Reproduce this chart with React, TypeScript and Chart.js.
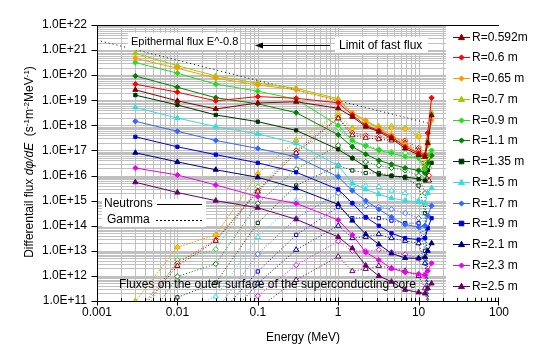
import React, { useEffect, useRef } from 'react';
import { Chart, registerables } from 'chart.js';

Chart.register(...registerables);

const FONT = '"Liberation Sans", Arial, sans-serif';

// Energies (MeV)
const neutronEnergies = [0.003, 0.01, 0.03, 0.1, 0.3, 1, 1.5, 2.2, 3.2, 4.6, 6.8, 10, 12, 13, 14.5];
const gammaEnergies = [0.003, 0.01, 0.03, 0.1, 0.3, 1, 1.5, 2.2, 3.2, 4.6, 6.8, 10, 12, 13.5];

const radiusLabels = ['R=0.592m', 'R=0.6 m', 'R=0.65 m', 'R=0.7 m', 'R=0.9 m', 'R=1.1 m', 'R=1.35 m', 'R=1.5 m', 'R=1.7 m', 'R=1.9 m', 'R=2.1 m', 'R=2.3 m', 'R=2.5 m'];

// Neutron differential flux
const nR0592 = [2.6e19, 9.5e18, 4.5e18, 7.8e18, 8.7e18, 4.8e18, 2.2e18, 8.9e17, 5.6e17, 3.0e17, 1.2e17, 6.6e16, 5.6e16, 2.0e17, 2.5e18];
const nR06 = [4.4e19, 2.1e19, 9.5e18, 1.4e19, 1.2e19, 7.9e18, 2.6e18, 1.0e18, 6.2e17, 3.5e17, 1.4e17, 7.8e16, 6.6e16, 5.0e17, 1.26e19];
const nR065 = [4.7e20, 1.9e20, 7.6e19, 4.1e19, 2.6e19, 1.0e19, 3.2e18, 1.6e18, 7.9e17, 4.2e17, 1.8e17, 7.9e16, 7.1e16, 1.6e17, 1.6e18];
const nR07 = [7.4e20, 2.4e20, 9.3e19, 4.8e19, 3.0e19, 1.15e19, 3.0e18, 1.4e18, 7.6e17, 3.5e17, 1.55e17, 7.2e16, 6.3e16, 2.6e17, 3.2e18];
const nR09 = [3.2e20, 1.2e20, 4.4e19, 2.3e19, 1.1e19, 1.0e18, 2.5e17, 1.5e17, 1.0e17, 7.8e16, 5.6e16, 5.0e16, 1.8e16, 6.3e16, 1.0e17];
const nR11 = [9.3e19, 3.3e19, 1.26e19, 7.2e18, 3.2e18, 4.2e17, 1.4e17, 7.1e16, 4.0e16, 2.8e16, 2.0e16, 1.6e16, 1.26e16, 3.2e16, 6.3e16];
const nR135 = [1.6e19, 6.5e18, 2.6e18, 1.4e18, 6.3e17, 1.1e17, 4.9e16, 2.2e16, 1.1e16, 9.5e15, 8.9e15, 7.2e15, 6.3e15, 1.6e16, 3.2e16];
const nR15 = [5.2e18, 1.95e18, 8.9e17, 4.6e17, 1.9e17, 2.5e16, 5.0e15, 2.8e15, 1.8e15, 1.26e15, 1.0e15, 8.9e14, 7.9e14, 2.0e15, 3.2e15];
const nR17 = [1.45e18, 5.8e17, 2.5e17, 1.2e17, 5.6e16, 8.9e15, 2.5e15, 1.0e15, 4.5e14, 2.2e14, 1.1e14, 8.9e13, 1.0e14, 2.5e14, 6.3e14];
const nR19 = [3.5e17, 1.4e17, 6.8e16, 3.2e16, 1.35e16, 2.8e15, 7.9e14, 2.2e14, 1.0e14, 5.0e13, 3.2e13, 2.8e13, 3.2e13, 7.9e13, 2.0e14];
const nR21 = [8.1e16, 3.5e16, 1.7e16, 8.5e15, 3.1e15, 7.1e14, 1.6e14, 4.6e13, 1.8e13, 7.9e12, 5.2e12, 5.0e12, 5.6e12, 1.0e13, 2.0e13];
const nR23 = [2.0e16, 1.05e16, 4.2e15, 1.45e15, 7.8e14, 1.7e14, 4.3e13, 8.7e12, 4.3e12, 2.0e12, 1.4e12, 1.2e12, 1.1e12, 1.6e12, 3.2e12];
const nR25 = [5.4e15, 2.1e15, 1.0e15, 5.2e14, 1.8e14, 3.6e13, 1.26e13, 2.6e12, 1.0e12, 5.9e11, 2.8e11, 2.2e11, 2.0e11, 3.2e11, 5.0e11];

// Gamma differential flux
const gR0592 = [2.5e10, 2.5e12, 2.5e13, 2.3e15, 7.9e16, 1.9e18, 4.0e17, 3.2e17, 2.8e17, 2.5e17, 2.0e17, 1.0e17, 1.6e16, 6.3e15];
const gR06 = [3.2e10, 3.2e12, 2.8e13, 2.5e15, 1.0e17, 2.0e18, 5.0e17, 4.0e17, 3.5e17, 3.2e17, 2.5e17, 1.26e17, 2.0e16, 1.0e16];
const gR065 = [9.3e10, 1.4e13, 4.3e13, 1.15e16, 2.4e17, 2.5e18, 7.1e17, 8.9e17, 8.3e17, 7.9e17, 7.1e17, 3.5e17, 2.5e16, 5.0e16];
const gR07 = [1.0e11, 1.4e13, 4.3e13, 1.2e16, 2.6e17, 3.0e18, 7.9e17, 1.0e18, 9.3e17, 9.3e17, 7.9e17, 4.2e17, 3.2e16, 6.3e16];
const gR09 = [1.0e10, 4.3e12, 1.15e13, 3.6e15, 1.0e17, 7.9e17, 2.0e17, 1.6e17, 1.1e17, 8.9e16, 7.9e16, 5.0e16, 1.0e16, 2.0e16];
const gR11 = [3.2e9, 9.5e11, 3.0e12, 7.8e14, 1.8e16, 1.6e17, 5.0e16, 3.5e16, 2.5e16, 2.0e16, 1.6e16, 1.0e16, 2.0e15, 3.2e10];
const gR135 = [1.0e9, 1.4e11, 5.4e11, 1.3e14, 4.0e15, 2.5e16, 1.6e16, 1.26e16, 1.26e16, 1.0e16, 7.9e15, 4.0e15, 3.2e14, 1.0e10];
const gR15 = [3.2e8, 3.2e10, 1.5e11, 3.5e13, 1.0e15, 1.0e16, 3.5e15, 4.0e15, 3.5e15, 2.5e15, 2.0e15, 1.0e15, 1.0e14, 1.0e10];
const gR17 = [1.0e8, 1.0e10, 4.0e10, 7.4e12, 2.0e14, 2.0e15, 7.9e14, 6.3e14, 5.6e14, 4.5e14, 3.2e14, 2.0e14, 3.2e13, 1.0e10];
const gR19 = [3.2e7, 3.2e9, 2.0e10, 1.5e12, 4.3e13, 5.6e14, 2.0e14, 2.1e14, 2.0e14, 1.6e14, 1.26e14, 1.26e14, 1.0e13, 1.0e10];
const gR21 = [1.0e7, 1.0e9, 6.3e9, 5.0e11, 1.1e13, 1.0e14, 3.2e13, 3.6e13, 4.6e13, 3.2e13, 2.5e13, 2.0e13, 3.2e12, 1.0e10];
const gR23 = [3.2e6, 3.2e8, 2.0e9, 1.6e11, 2.7e12, 2.4e13, 1.0e13, 9.8e12, 1.1e13, 8.9e12, 7.2e12, 5.0e12, 1.0e12, 1.0e10];
const gR25 = [1.0e6, 1.0e8, 6.3e8, 5.0e10, 6.9e11, 5.9e12, 1.55e12, 1.9e12, 2.5e12, 2.0e12, 1.6e12, 1.0e12, 3.2e11, 1.0e10];

// Epithermal flux E^-0.8 reference line (end points)
const epithermalEnergies = [0.001, 15];
const epithermalFlux = [2.5e21, 1.1e18];

const xTickValues = [0.001, 0.01, 0.1, 1, 10, 100];
const xTickLabels = ['0.001', '0.01', '0.1', '1', '10', '100'];
const yTickValues = [1e11, 1e12, 1e13, 1e14, 1e15, 1e16, 1e17, 1e18, 1e19, 1e20, 1e21, 1e22];
const yTickLabels = ['1.0E+11', '1.0E+12', '1.0E+13', '1.0E+14', '1.0E+15', '1.0E+16', '1.0E+17', '1.0E+18', '1.0E+19', '1.0E+20', '1.0E+21', '1.0E+22'];

const neutronSeries = [nR0592, nR06, nR065, nR07, nR09, nR11, nR135, nR15, nR17, nR19, nR21, nR23, nR25];
const gammaSeries = [gR0592, gR06, gR065, gR07, gR09, gR11, gR135, gR15, gR17, gR19, gR21, gR23, gR25];

const seriesColors = ['#800000', '#FF0000', '#FF9900', '#99CC00', '#22DD22', '#008000', '#003300', '#33DDDD', '#3366FF', '#0000DD', '#000080', '#EE00EE', '#660066'];
const seriesMarkers = ['triangle', 'rectRot', 'rectRot', 'triangle', 'rectRot', 'rectRot', 'rect', 'triangle', 'rectRot', 'rect', 'triangle', 'rectRot', 'triangle'];

function markerRadius(style: string) {
  return style === 'triangle' ? 3 : style === 'rect' ? 2.3 : 2.6;
}

function drawMarker(ctx: CanvasRenderingContext2D, style: string, x: number, y: number, r: number, fill: string, stroke: string) {
  ctx.beginPath();
  if (style === 'triangle') {
    ctx.moveTo(x, y - r * 1.1);
    ctx.lineTo(x + r, y + r * 0.7);
    ctx.lineTo(x - r, y + r * 0.7);
  } else if (style === 'rectRot') {
    ctx.moveTo(x, y - r);
    ctx.lineTo(x + r, y);
    ctx.lineTo(x, y + r);
    ctx.lineTo(x - r, y);
  } else {
    ctx.rect(x - r, y - r, 2 * r, 2 * r);
  }
  ctx.closePath();
  ctx.fillStyle = fill;
  ctx.fill();
  ctx.strokeStyle = stroke;
  ctx.lineWidth = 1;
  ctx.stroke();
}

const gridPlugin = {
  id: 'excelGrid',
  beforeDatasetsDraw(chart: any) {
    const { ctx, chartArea } = chart;
    const xs = chart.scales.x;
    const ys = chart.scales.y;
    const left = chartArea.left, right = chartArea.right, top = chartArea.top, bottom = chartArea.bottom;
    ctx.save();
    ctx.strokeStyle = '#c0c0c0';
    ctx.lineWidth = 1;
    ctx.beginPath();
    for (let e = -3; e < 2; e++) {
      for (let m = 1; m < 10; m++) {
        const v = m * Math.pow(10, e);
        const px = Math.round(xs.getPixelForValue(v)) + 0.5;
        if (px <= left + 1) continue;
        ctx.moveTo(px, top);
        ctx.lineTo(px, bottom);
      }
    }
    for (let e = 11; e < 22; e++) {
      for (let m = 1; m < 10; m++) {
        const v = m * Math.pow(10, e);
        const py = Math.round(ys.getPixelForValue(v)) + 0.5;
        if (py >= bottom - 1) continue;
        ctx.moveTo(left, py);
        ctx.lineTo(right, py);
      }
    }
    ctx.stroke();

    // axes and frame
    ctx.strokeStyle = '#000';
    ctx.beginPath();
    const L = Math.round(left) + 0.5;
    const B = Math.round(bottom) + 0.5;
    const T = Math.round(top) + 0.5;
    const R = Math.round(right);
    ctx.moveTo(L, T); ctx.lineTo(L, B);
    ctx.moveTo(L, B); ctx.lineTo(R, B);
    ctx.moveTo(L, T); ctx.lineTo(R, T);
    // y major ticks
    yTickValues.forEach((v) => {
      const py = Math.round(ys.getPixelForValue(v)) + 0.5;
      ctx.moveTo(L - 6, py); ctx.lineTo(L, py);
    });
    // x ticks
    for (let e = -3; e < 2; e++) {
      for (let m = 1; m < 10; m++) {
        const v = m * Math.pow(10, e);
        const px = Math.round(xs.getPixelForValue(v)) + 0.5;
        if (m === 1) { ctx.moveTo(px, B - 4); ctx.lineTo(px, B + 4); }
        else { ctx.moveTo(px, B - 3.5); ctx.lineTo(px, B); }
      }
    }
    const p100 = Math.round(xs.getPixelForValue(100)) - 0.5;
    ctx.moveTo(p100, B - 4); ctx.lineTo(p100, B + 4);
    ctx.stroke();
    ctx.restore();
  },
};

function textBox(ctx: CanvasRenderingContext2D, x0: number, y0: number, w: number, h: number) {
  ctx.fillStyle = '#fff';
  ctx.fillRect(x0, y0, w, h);
}

const annotationPlugin = {
  id: 'excelAnnotations',
  afterDatasetsDraw(chart: any) {
    const { ctx } = chart;
    ctx.save();
    ctx.textBaseline = 'middle';
    ctx.fillStyle = '#000';

    // Epithermal label
    textBox(ctx, 128, 33, 112, 17);
    ctx.fillStyle = '#000';
    ctx.font = `11px ${FONT}`;
    ctx.textAlign = 'left';
    ctx.fillText('Epithermal flux E^-0.8', 131, 41.5);

    // Limit of fast flux arrow
    textBox(ctx, 335, 37, 93, 16);
    ctx.fillStyle = '#000';
    ctx.font = `12px ${FONT}`;
    ctx.fillText('Limit of fast flux', 339, 45.5);
    ctx.strokeStyle = '#000';
    ctx.lineWidth = 1;
    ctx.beginPath();
    ctx.moveTo(260, 45.5);
    ctx.lineTo(330, 45.5);
    ctx.stroke();
    ctx.beginPath();
    ctx.moveTo(255, 45.5);
    ctx.lineTo(263, 42.5);
    ctx.lineTo(263, 48.5);
    ctx.closePath();
    ctx.fill();

    // Neutrons / Gamma key
    textBox(ctx, 102, 199, 104, 28);
    ctx.fillStyle = '#000';
    ctx.fillText('Neutrons', 104, 204);
    ctx.fillText('Gamma', 107, 220);
    ctx.beginPath();
    ctx.moveTo(157, 204.5);
    ctx.lineTo(202, 204.5);
    ctx.stroke();
    ctx.setLineDash([2, 2]);
    ctx.beginPath();
    ctx.moveTo(156, 220.5);
    ctx.lineTo(202, 220.5);
    ctx.stroke();
    ctx.setLineDash([]);

    // Surface note
    ctx.fillText('Fluxes on the outer surface of the superconducting core', 119, 285);

    ctx.restore();
  },
  afterDraw(chart: any) {
    const { ctx } = chart;
    ctx.save();
    // legend overlay
    ctx.fillStyle = '#fff';
    ctx.fillRect(446, 26, 109, 271);
    ctx.font = `12px ${FONT}`;
    ctx.textBaseline = 'middle';
    ctx.textAlign = 'left';
    const datasets = chart.data.datasets;
    for (let i = 0; i < radiusLabels.length; i++) {
      const ds = datasets[i];
      const y = Math.round(36.7 + i * 20.75) + 0.5;
      ctx.strokeStyle = ds.borderColor;
      ctx.lineWidth = 1;
      ctx.beginPath();
      ctx.moveTo(453, y);
      ctx.lineTo(470, y);
      ctx.stroke();
      drawMarker(ctx, ds.pointStyle, 461.5, y, markerRadius(ds.pointStyle), ds.pointBackgroundColor, ds.pointBorderColor);
      ctx.fillStyle = '#000';
      ctx.fillText(ds.label, 472, y);
    }

    // y-axis title with italic and superscripts
    const segs = [
      { t: 'Differentail flux ', f: `12px ${FONT}`, dy: 0 },
      { t: 'd\u03C6/dE', f: `italic 12px ${FONT}`, dy: 0 },
      { t: '  (s', f: `12px ${FONT}`, dy: 0 },
      { t: '-1', f: `8px ${FONT}`, dy: -4.5 },
      { t: 'm', f: `12px ${FONT}`, dy: 0 },
      { t: '-2', f: `8px ${FONT}`, dy: -4.5 },
      { t: 'MeV', f: `12px ${FONT}`, dy: 0 },
      { t: '-1', f: `8px ${FONT}`, dy: -4.5 },
      { t: ')', f: `12px ${FONT}`, dy: 0 },
    ];
    let total = 0;
    segs.forEach((s) => { ctx.font = s.f; total += ctx.measureText(s.t).width; });
    ctx.translate(33, 162);
    ctx.rotate(-Math.PI / 2);
    ctx.textBaseline = 'alphabetic';
    ctx.fillStyle = '#000';
    let cx = -total / 2;
    segs.forEach((s) => {
      ctx.font = s.f;
      ctx.fillText(s.t, cx, s.dy);
      cx += ctx.measureText(s.t).width;
    });
    ctx.restore();

    // x-axis title
    ctx.save();
    ctx.font = `12px ${FONT}`;
    ctx.fillStyle = '#000';
    ctx.textAlign = 'center';
    ctx.textBaseline = 'middle';
    ctx.fillText('Energy (MeV)', 303, 338);
    ctx.restore();
  },
};

export default function App() {
  const canvasRef = useRef<HTMLCanvasElement | null>(null);

  useEffect(() => {
    const canvas = canvasRef.current;
    if (!canvas) return;

    const neutronDatasets = neutronSeries.map((vals, i) => ({
      label: radiusLabels[i],
      data: neutronEnergies.map((e, j) => ({ x: e, y: vals[j] })),
      borderColor: seriesColors[i],
      backgroundColor: seriesColors[i],
      pointBackgroundColor: seriesColors[i],
      pointBorderColor: seriesColors[i],
      pointStyle: seriesMarkers[i],
      pointRadius: markerRadius(seriesMarkers[i]),
      pointBorderWidth: 1,
      borderWidth: 1,
      tension: 0,
    }));

    const gammaDatasets = gammaSeries.map((vals, i) => ({
      label: radiusLabels[i] + ' gamma',
      data: gammaEnergies.map((e, j) => ({ x: e, y: vals[j] })),
      borderColor: seriesColors[i],
      backgroundColor: seriesColors[i],
      pointBackgroundColor: i === 2 ? '#FFCC00' : '#ffffff',
      pointBorderColor: seriesColors[i],
      pointStyle: seriesMarkers[i],
      pointRadius: markerRadius(seriesMarkers[i]),
      pointBorderWidth: 1,
      borderWidth: 1,
      borderDash: [1, 2],
      tension: 0,
    }));

    const epithermal = {
      label: 'Epithermal flux E^-0.8',
      data: epithermalEnergies.map((e, j) => ({ x: e, y: epithermalFlux[j] })),
      borderColor: '#000',
      borderWidth: 1,
      borderDash: [1, 3],
      pointRadius: 0,
      tension: 0,
    };

    const chart = new Chart(canvas, {
      type: 'line',
      data: { datasets: [...neutronDatasets, ...gammaDatasets, epithermal] as any },
      options: {
        responsive: false,
        devicePixelRatio: 1,
        animation: false,
        events: [],
        layout: { padding: { top: 25, right: 56, bottom: 0, left: 0 } },
        plugins: {
          legend: { display: false },
          tooltip: { enabled: false },
          title: { display: false },
        },
        scales: {
          x: {
            type: 'logarithmic',
            min: 0.001,
            max: 100,
            position: 'bottom',
            grid: { display: false, drawTicks: false },
            border: { display: false },
            afterBuildTicks: (scale: any) => { scale.ticks = xTickValues.map((v) => ({ value: v })); },
            afterFit: (scale: any) => { scale.height = 50; },
            ticks: {
              autoSkip: false,
              maxRotation: 0,
              padding: 4,
              color: '#000',
              font: { family: FONT, size: 12 },
              callback: (_v: any, idx: number) => xTickLabels[idx],
            },
          },
          y: {
            type: 'logarithmic',
            min: 1e11,
            max: 1e22,
            position: 'left',
            grid: { display: false, drawTicks: false },
            border: { display: false },
            afterBuildTicks: (scale: any) => { scale.ticks = yTickValues.map((v) => ({ value: v })); },
            afterFit: (scale: any) => { scale.width = 97; },
            ticks: {
              autoSkip: false,
              padding: 10,
              color: '#000',
              font: { family: FONT, size: 12 },
              callback: (_v: any, idx: number) => yTickLabels[idx],
            },
          },
        },
      } as any,
      plugins: [gridPlugin, annotationPlugin],
    });

    return () => chart.destroy();
  }, []);

  return (
    <div style={{ position: 'fixed', left: 0, top: 0, width: 555, height: 351, background: '#fff' }}>
      <canvas ref={canvasRef} width={555} height={351} style={{ display: 'block', width: 555, height: 351 }} />
    </div>
  );
}
